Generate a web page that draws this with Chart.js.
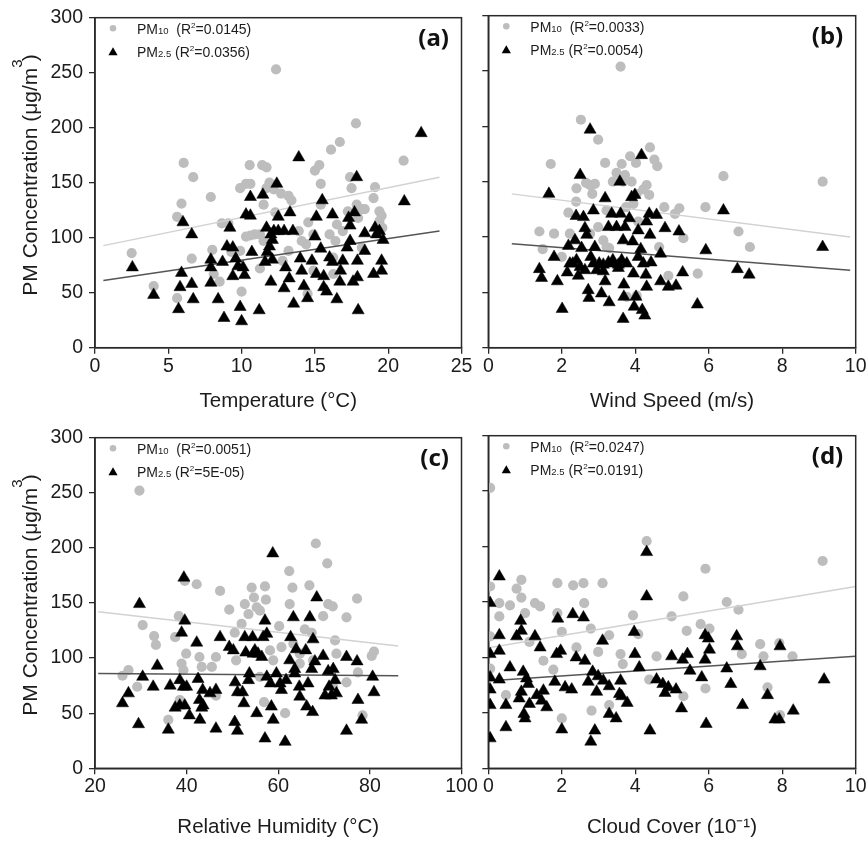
<!DOCTYPE html>
<html>
<head>
<meta charset="utf-8">
<script src="https://cdn.jsdelivr.net/npm/chart.js@4.4.0/dist/chart.umd.min.js"></script>
<style>
    body { margin: 0; background: #fff; width: 868px; height: 841px; position: relative; overflow: hidden; }
    canvas { position: absolute; }
</style>
</head>
<body>
<canvas id="chartA" width="480" height="420" style="left:0;top:0"></canvas>
<canvas id="chartB" width="398" height="420" style="left:470px;top:0"></canvas>
<canvas id="chartC" width="480" height="421" style="left:0;top:420px"></canvas>
<canvas id="chartD" width="398" height="421" style="left:470px;top:420px"></canvas>
<script>
// (a) temperature
const aPm10 = [[2.5,86],[4.0,56],[5.6,119],[5.9,131],[6.05,168],[6.7,155],[6.6,81],[5.6,45],[7.9,137],[8.0,89],[8.65,113],[9.1,113],[10.0,51],[9.9,145],[10.3,149],[10.6,149],[10.55,166],[10.6,102],[10.3,101],[10.9,103],[11.4,166],[11.7,164],[11.5,130],[11.7,145],[11.9,150],[12.35,253],[12.2,144],[12.7,140],[13.2,138],[13.4,134],[12.3,123],[11.25,103],[11.5,97],[13.2,88],[12.8,79],[11.25,72],[9.9,88],[9.3,87],[8.1,67],[8.5,60],[13.9,106],[14.1,97],[14.4,94],[14.55,114],[14.9,103],[15.0,161],[15.3,166],[15.4,149],[15.4,130],[16.0,103],[16.1,180],[16.7,187],[16.5,112],[16.4,97],[16.9,106],[16.25,67],[17.25,124],[17.4,155],[17.5,145],[17.8,204],[17.85,130],[17.95,118],[18.2,126],[18.2,91],[18.4,126],[19.0,136],[19.1,146],[19.4,124],[19.4,115],[19.55,120],[19.6,109],[21.05,170],[16.25,82],[14.9,70],[14.5,49]];
const aPm25 = [[2.55,73],[4.0,48],[5.8,55],[5.7,35],[5.9,68],[6.0,114],[6.6,103],[6.6,58],[6.7,44],[7.9,80],[7.9,73],[7.9,59],[8.4,44],[8.7,78],[8.8,27],[9.2,109],[9.0,92],[9.4,91],[9.4,65],[9.6,81],[9.9,37],[10.0,24],[9.75,74],[10.1,73],[10.2,66],[10.3,121],[10.6,137],[10.6,120],[10.7,87],[11.2,34],[11.45,139],[11.6,78],[11.7,109],[11.75,87],[11.9,92],[12.0,103],[12.1,98],[12.2,106],[12.1,80],[12.4,149],[12.5,119],[12.5,106],[12.0,60],[12.9,106],[12.9,54],[13.0,73],[13.25,63],[13.3,123],[13.5,106],[13.55,40],[13.9,173],[14.0,81],[14.1,70],[14.25,56],[14.5,45],[14.8,79],[15.0,101],[15.1,119],[15.1,67],[15.4,90],[15.5,134],[15.6,65],[15.6,55],[15.8,51],[16.0,82],[16.2,121],[16.2,78],[16.5,44],[16.7,60],[16.75,70],[16.9,79],[17.2,91],[17.3,118],[17.4,111],[17.4,97],[17.6,60],[17.7,123],[17.85,155],[17.9,79],[17.9,64],[17.95,34],[18.4,88],[18.4,104],[19.0,67],[19.1,109],[19.2,103],[19.55,79],[19.55,70],[19.65,98],[19.4,106],[21.1,133],[22.25,195]];
const aFit10 = [[0.57,92.8],[23.5,155]];
const aFit25 = [[0.57,61],[23.5,106]];

// (b) wind speed
const bPm10 = [[1.39,105],[1.48,89],[1.7,166],[1.79,103],[2.0,82],[2.18,122],[2.22,103],[2.39,132],[2.4,144],[2.52,206],[2.66,149],[2.77,147],[2.83,139],[2.9,148],[2.99,188],[2.99,109],[3.13,97],[3.18,167],[3.22,124],[3.29,90],[3.39,150],[3.49,158],[3.6,254],[3.63,166],[3.67,150],[3.72,156],[3.75,127],[3.86,173],[3.9,150],[3.95,130],[4.02,167],[4.04,139],[4.08,114],[4.22,143],[4.31,147],[4.38,138],[4.4,181],[4.52,170],[4.6,164],[4.65,91],[4.79,127],[4.9,65],[5.08,121],[5.2,126],[5.31,99],[5.7,67],[5.91,127],[6.4,155],[6.81,105],[7.12,91],[9.1,150],[3.77,46],[4.04,47],[2.77,103],[3.22,91]];
const bPm25 = [[1.39,71],[1.45,63],[1.65,139],[1.79,82],[1.88,60],[2.01,35],[2.18,92],[2.15,68],[2.22,76],[2.36,97],[2.39,119],[2.40,79],[2.45,65],[2.5,156],[2.54,90],[2.59,118],[2.63,108],[2.68,102],[2.72,52],[2.74,45],[2.77,197],[2.79,82],[2.86,124],[2.9,91],[2.95,70],[3.02,76],[3.08,49],[3.13,69],[3.18,135],[3.18,60],[3.27,109],[3.29,41],[3.36,121],[3.39,79],[3.49,109],[3.54,75],[3.58,150],[3.6,121],[3.63,79],[3.67,97],[3.67,26],[3.69,57],[3.69,46],[3.72,109],[3.77,76],[3.84,117],[3.9,136],[3.93,96],[3.95,67],[3.97,37],[3.99,138],[4.02,46],[4.08,82],[4.08,106],[4.15,89],[4.17,174],[4.19,34],[4.22,76],[4.26,29],[4.29,66],[4.31,55],[4.31,114],[4.38,121],[4.40,102],[4.43,77],[4.58,120],[4.69,85],[4.69,60],[4.81,108],[4.9,55],[5.11,56],[5.19,105],[5.29,68],[5.69,39],[5.92,88],[6.4,124],[6.78,71],[7.1,66],[9.1,91],[2.3,76],[2.5,73],[2.63,70],[2.86,76],[3.13,75],[3.27,77],[3.4,76],[3.54,72]];
const bFit10 = [[0.64,139],[9.85,100]];
const bFit25 = [[0.64,94],[9.85,70]];

// (c) relative humidity
const cPm10 = [[26.0,84],[27.3,89],[29.7,252],[29.2,74],[30.4,130],[32.9,120],[33.3,112],[36.0,44],[37.5,119],[38.3,138],[38.9,95],[39.3,89],[39.6,170],[39.9,104],[38.5,62],[42.2,167],[42.8,101],[43.3,92],[45.5,92],[46.4,101],[47.3,161],[46.4,66],[49.3,144],[50.5,123],[50.8,98],[52.0,131],[52.7,149],[53.5,140],[54.2,164],[54.7,155],[55.3,146],[56.0,143],[57.1,165],[57.3,153],[56.9,60],[58.2,107],[58.9,98],[60.2,129],[60.7,110],[61.5,50],[62.4,179],[62.5,149],[63.1,164],[63.3,113],[64.7,104],[65.8,126],[66.8,166],[67.3,123],[68.2,204],[69.8,138],[70.7,186],[70.9,149],[71.9,147],[72.4,116],[72.7,104],[74.9,137],[74.9,78],[77.2,154],[77.4,87],[78.4,48],[80.4,102],[80.9,106],[72.0,74],[67.6,98],[56.0,83],[64.7,95]];
const cPm25 = [[26.0,59],[27.3,68],[29.5,40],[29.7,149],[30.4,83],[32.7,74],[33.6,93],[36.0,35],[36.4,75],[37.5,55],[38.5,80],[38.5,57],[38.9,123],[39.4,173],[39.6,134],[39.3,74],[40.0,74],[39.6,57],[40.6,48],[42.2,114],[42.5,81],[42.8,62],[42.9,44],[43.3,55],[43.5,71],[43.6,57],[45.1,68],[46.4,71],[46.4,36],[47.3,119],[49.3,110],[50.2,107],[50.5,42],[50.6,78],[51.1,69],[51.1,34],[52.2,69],[52.5,59],[52.7,119],[52.9,105],[53.5,80],[53.7,86],[54.4,119],[54.5,104],[54.9,107],[55.3,50],[55.6,104],[56.4,101],[56.7,119],[57.1,134],[57.1,27],[57.5,122],[57.5,83],[58.3,77],[58.5,56],[58.8,195],[58.9,44],[59.6,86],[60.4,77],[60.7,71],[61.5,24],[61.7,80],[62.5,98],[62.7,119],[63.3,137],[63.6,90],[63.9,108],[63.6,86],[64.6,74],[64.7,65],[66.0,107],[66.2,56],[66.5,77],[66.9,137],[67.3,90],[67.6,117],[67.5,51],[68.0,97],[68.4,155],[69.8,102],[70.2,66],[70.9,88],[71.1,74],[71.6,66],[72.0,90],[72.4,80],[72.7,68],[74.9,101],[74.9,34],[77.2,97],[77.4,62],[78.2,44],[80.6,83],[80.9,69]];
const cFit10 = [[20.7,142],[86.2,111]];
const cFit25 = [[20.7,86],[86.2,84]];

// (d) cloud cover
const dPm10 = [[0.05,253],[0.05,164],[0.05,119],[0.05,90],[0.3,149],[0.3,137],[0.48,66],[0.59,147],[0.77,162],[0.9,170],[0.9,154],[1.0,140],[1.12,114],[1.27,149],[1.41,146],[1.5,97],[1.77,89],[1.88,167],[1.88,140],[2.0,123],[2.0,45],[2.31,165],[2.4,109],[2.59,167],[2.61,149],[2.79,126],[2.81,52],[3.11,167],[2.99,105],[3.29,120],[3.29,57],[3.6,103],[3.66,94],[3.94,138],[4.08,121],[4.31,205],[4.38,80],[4.58,101],[4.99,137],[5.31,155],[5.31,65],[5.4,124],[5.78,130],[5.91,180],[5.91,72],[6.02,126],[6.49,150],[6.81,143],[6.9,103],[7.4,112],[7.49,101],[7.6,73],[7.92,113],[8.28,101],[9.1,187],[7.94,48]];
const dPm25 = [[0.05,149],[0.05,103],[0.05,82],[0.05,71],[0.05,57],[0.05,27],[0.3,173],[0.3,120],[0.3,106],[0.3,80],[0.48,57],[0.48,37],[0.59,91],[0.77,119],[0.84,63],[0.88,133],[0.9,124],[0.9,69],[0.95,87],[0.97,49],[1.0,45],[1.04,81],[1.09,76],[1.12,58],[1.27,119],[1.32,66],[1.41,109],[1.45,61],[1.5,70],[1.59,55],[1.81,78],[1.86,103],[1.89,135],[1.97,106],[2.0,35],[2.09,73],[2.27,71],[2.3,139],[2.39,100],[2.59,136],[2.63,97],[2.72,78],[2.79,24],[2.84,87],[2.9,34],[2.95,69],[2.99,83],[3.11,115],[3.13,79],[3.29,74],[3.29,49],[3.48,45],[3.57,67],[3.6,79],[3.63,65],[3.78,59],[3.97,123],[3.99,103],[4.11,91],[4.31,195],[4.31,155],[4.4,34],[4.58,80],[4.75,76],[4.81,68],[4.9,73],[4.99,101],[5.11,71],[5.26,54],[5.29,98],[5.42,103],[5.49,88],[5.81,82],[5.9,98],[5.9,120],[5.93,40],[5.99,117],[6.02,107],[6.49,90],[6.6,76],[6.76,119],[6.78,110],[6.92,57],[7.4,92],[7.6,66],[7.8,44],[7.92,44],[7.94,110],[8.3,52],[9.14,80]];
const dFit10 = [[0.05,109],[10,164]];
const dFit25 = [[0.05,79],[10,101]];

const r2Pm10 = ['0.0145', '0.0033', '0.0051', '0.0247'];
const r2Pm25 = ['0.0356', '0.0054', '5E-05', '0.0191'];
const panelLabels = ['(a)', '(b)', '(c)', '(d)'];
const xTitles = ['Temperature (°C)', 'Wind Speed (m/s)', 'Relative Humidity (°C)', 'Cloud Cover (10⁻¹)'];
const yTitle = 'PM Concentration (μg/m';

const FONT = '"Liberation Sans", Arial, sans-serif';
const INK = '#1c1c1c';

function toXY(pairs) {
    return pairs.map(p => ({ x: p[0], y: p[1] }));
}

function drawParts(ctx, x, y, parts) {
    parts.forEach(p => {
        ctx.font = p.size + 'px ' + FONT;
        ctx.fillText(p.t, x, y + (p.dy || 0));
        x += ctx.measureText(p.t).width + (p.gap || 0);
    });
    return x;
}

function partsWidth(ctx, parts) {
    let w = 0;
    parts.forEach(p => {
        ctx.font = p.size + 'px ' + FONT;
        w += ctx.measureText(p.t).width + (p.gap || 0);
    });
    return w;
}

const decorPlugin = {
    id: 'decor',
    afterDraw(chart, args, opts) {
        const ctx = chart.ctx;
        const { left, top, right, bottom } = chart.chartArea;
        ctx.save();
        ctx.strokeStyle = '#2a2a2a';
        ctx.lineWidth = 1.5;
        ctx.strokeRect(left, top, right - left, bottom - top);

        // legend
        ctx.fillStyle = '#bdbdbd';
        ctx.beginPath();
        ctx.arc(left + 18, top + 10.5, 3.3, 0, Math.PI * 2);
        ctx.fill();
        ctx.fillStyle = '#000';
        const tx = left + 18, ty = top + 35;
        ctx.beginPath();
        ctx.moveTo(tx, ty - 5.5);
        ctx.lineTo(tx + 4.6, ty + 2.5);
        ctx.lineTo(tx - 4.6, ty + 2.5);
        ctx.closePath();
        ctx.fill();

        ctx.fillStyle = INK;
        ctx.textBaseline = 'alphabetic';
        ctx.textAlign = 'left';
        drawParts(ctx, left + 42, top + 16, [
            { t: 'PM', size: 14 }, { t: '10', size: 9.5 }, { t: '  (R', size: 14 },
            { t: '2', size: 8, dy: -6 }, { t: '=' + opts.r10 + ')', size: 14 }
        ]);
        drawParts(ctx, left + 42, top + 39.5, [
            { t: 'PM', size: 14 }, { t: '2.5', size: 9.5 }, { t: ' (R', size: 14 },
            { t: '2', size: 8, dy: -6 }, { t: '=' + opts.r25 + ')', size: 14 }
        ]);

        // panel label
        ctx.font = 'bold 24px "Noto Sans", ' + FONT;
        ctx.textAlign = 'right';
        ctx.textBaseline = 'middle';
        ctx.fillStyle = '#111';
        ctx.fillText(opts.label, right - 12.5, top + 21);

        // y title on the left panels
        if (opts.showY) {
            const parts = [{ t: yTitle, size: 21 }, { t: '3', size: 15, dy: -15, gap: -2 }, { t: ')', size: 21 }];
            ctx.translate(36.5, 175);
            ctx.rotate(-Math.PI / 2);
            ctx.textAlign = 'left';
            ctx.textBaseline = 'alphabetic';
            ctx.fillStyle = INK;
            drawParts(ctx, -partsWidth(ctx, parts) / 2, 0, parts);
        }
        ctx.restore();
    }
};

function makePanel(canvasId, p) {
    const ctx = document.getElementById(canvasId).getContext('2d');
    const tickFont = { family: FONT, size: 19.5 };
    return new Chart(ctx, {
        type: 'scatter',
        data: {
            datasets: [
                {
                    data: toXY(p.pm10), pointStyle: 'circle', pointRadius: 5.1,
                    pointBackgroundColor: '#bdbdbd', pointBorderWidth: 0, order: 3
                },
                {
                    data: toXY(p.fit10), showLine: true, borderColor: '#d2d2d2', borderWidth: 1.5,
                    pointRadius: 0, fill: false, order: 2
                },
                {
                    data: toXY(p.fit25), showLine: true, borderColor: '#555555', borderWidth: 1.5,
                    pointRadius: 0, fill: false, order: 1
                },
                {
                    data: toXY(p.pm25), pointStyle: 'triangle', pointRadius: 7,
                    pointBackgroundColor: '#000', pointBorderColor: '#000', pointBorderWidth: 0.5, order: 0
                }
            ]
        },
        plugins: [decorPlugin],
        options: {
            responsive: false,
            animation: false,
            events: [],
            layout: { padding: { top: p.padTop, right: p.padRight, left: 0, bottom: 0 } },
            plugins: {
                legend: { display: false },
                tooltip: { enabled: false },
                decor: { r10: p.r10, r25: p.r25, label: p.label, showY: p.showY }
            },
            scales: {
                x: {
                    type: 'linear', min: p.xMin, max: p.xMax,
                    ticks: { stepSize: p.xStep, autoSkip: false, maxRotation: 0, font: tickFont, color: INK, padding: 1 },
                    grid: { display: true, drawOnChartArea: false, drawTicks: true, tickLength: 6, color: '#2a2a2a', lineWidth: 1.3 },
                    border: { display: true, color: '#2a2a2a', width: 1.5 },
                    title: {
                        display: true, text: p.xTitle, color: INK,
                        font: { family: FONT, size: 20.5 }, padding: { top: 0, bottom: p.titlePad }
                    },
                    afterFit: s => { s.height = p.xHeight; }
                },
                y: {
                    type: 'linear', min: 0, max: 300,
                    ticks: { display: p.showY, stepSize: 50, font: tickFont, color: INK, padding: 6 },
                    grid: { display: true, drawOnChartArea: false, drawTicks: true, tickLength: 6, color: '#2a2a2a', lineWidth: 1.3 },
                    border: { display: true, color: '#2a2a2a', width: 1.5 },
                    afterFit: s => { s.width = p.yWidth; }
                }
            }
        }
    });
}

document.addEventListener('DOMContentLoaded', function() {
    const left = { yWidth: 95, padRight: 18.5, showY: true };
    const right = { yWidth: 18.3, padRight: 12.3, showY: false };
    const topRow = { padTop: 15.7, xHeight: 72.3, titlePad: 6.7 };
    const bottomRow = { padTop: 15.7, xHeight: 72.7, titlePad: 1.5 };

    makePanel('chartA', Object.assign({}, left, topRow, {
        pm10: aPm10, pm25: aPm25, fit10: aFit10, fit25: aFit25,
        xMin: 0, xMax: 25, xStep: 5, xTitle: xTitles[0],
        r10: r2Pm10[0], r25: r2Pm25[0], label: panelLabels[0]
    }));
    makePanel('chartB', Object.assign({}, right, topRow, {
        pm10: bPm10, pm25: bPm25, fit10: bFit10, fit25: bFit25,
        xMin: 0, xMax: 10, xStep: 2, xTitle: xTitles[1],
        r10: r2Pm10[1], r25: r2Pm25[1], label: panelLabels[1]
    }));
    makePanel('chartC', Object.assign({}, left, bottomRow, {
        pm10: cPm10, pm25: cPm25, fit10: cFit10, fit25: cFit25,
        xMin: 20, xMax: 100, xStep: 20, xTitle: xTitles[2],
        r10: r2Pm10[2], r25: r2Pm25[2], label: panelLabels[2]
    }));
    makePanel('chartD', Object.assign({}, right, bottomRow, {
        pm10: dPm10, pm25: dPm25, fit10: dFit10, fit25: dFit25,
        xMin: 0, xMax: 10, xStep: 2, xTitle: xTitles[3],
        r10: r2Pm10[3], r25: r2Pm25[3], label: panelLabels[3]
    }));
});
</script>
</body>
</html>
